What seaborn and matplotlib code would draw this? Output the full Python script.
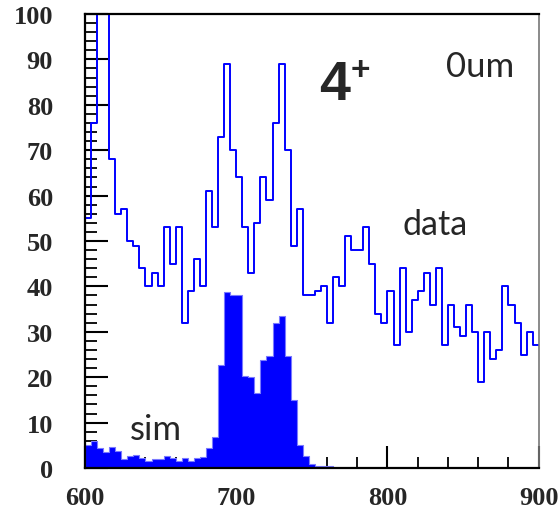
import numpy as np
import pandas as pd
import matplotlib
matplotlib.use("Agg")
import matplotlib.pyplot as plt
from matplotlib.ticker import MultipleLocator
import seaborn as sns

# ---- data (bin width 4, 600..900) ----
bin_lo, bin_hi, bin_w = 600, 900, 4
data_counts = [55, 76, 120, 115, 68, 56, 57, 50, 49, 44,
               40, 43, 40, 53, 45, 53, 32, 39, 46, 40,
               61, 53, 73, 89, 70, 64, 53, 43, 54, 64,
               59, 76, 89, 70, 49, 57, 38, 38, 39, 40,
               32, 42, 40, 51, 48, 48, 53, 45, 34, 32,
               39, 27, 44, 30, 37, 39, 43, 36, 44, 27,
               36, 31, 29, 36, 30, 19, 30, 24, 26, 40,
               36, 32, 25, 30, 27]
sim_counts = [5.1, 5.9, 4.3, 3.6, 4.7, 3.7, 2.0, 2.7, 2.9, 2.3,
              1.6, 2.0, 2.0, 2.6, 2.2, 1.6, 2.1, 1.6, 2.3, 2.5,
              4.3, 6.8, 22.7, 38.8, 38.2, 38.2, 20.3, 20.1, 16.6, 23.8,
              24.6, 31.9, 33.5, 24.6, 14.9, 5.1, 2.6, 0.8, 0.4, 0.4,
              0.4] + [0] * 34
x_ticks = [600, 700, 800, 900]
y_ticks = [0, 10, 20, 30, 40, 50, 60, 70, 80, 90, 100]

centers = bin_lo + bin_w / 2 + bin_w * np.arange(len(data_counts))
df = pd.DataFrame({"x": centers, "data": data_counts, "sim": sim_counts})

sns.set_style("ticks")
plt.rcParams["font.family"] = ["DejaVu Sans"]

W, H = 558, 510
fig = plt.figure(figsize=(W / 100, H / 100), dpi=100)
ax = fig.add_axes([85 / W, 1 - 469 / H, 453.7 / W, 454 / H])

sns.histplot(data=df, x="x", weights="sim", binwidth=bin_w,
             binrange=(bin_lo, bin_hi), element="step",
             fill=True, color="#0000ff", alpha=1.0, edgecolor="#7a7aff",
             linewidth=0.8, ax=ax)
sns.histplot(data=df, x="x", weights="data", binwidth=bin_w,
             binrange=(bin_lo, bin_hi), element="step",
             fill=False, color="#0000ff", linewidth=1.4, ax=ax)

ax.set_xlim(bin_lo, bin_hi)
ax.set_ylim(0, 100)
ax.set_xlabel("")
ax.set_ylabel("")
ax.set_xticks(x_ticks)
ax.set_yticks(y_ticks)
ax.xaxis.set_minor_locator(MultipleLocator(20))
ax.yaxis.set_minor_locator(MultipleLocator(2))
ax.tick_params(axis="y", which="major", direction="in", length=16.5,
               width=1.5, color="black", right=False, pad=23)
ax.tick_params(axis="y", which="minor", direction="in", length=8.6,
               width=1.3, color="black", right=False)
ax.tick_params(axis="x", which="major", direction="in", length=15.8,
               width=1.5, color="black", top=False, pad=13)
ax.tick_params(axis="x", which="minor", direction="in", length=8,
               width=1.3, color="black", top=False)
for lab in ax.get_xticklabels() + ax.get_yticklabels():
    lab.set_fontfamily("Liberation Serif")
    lab.set_fontweight("bold")
    lab.set_fontsize(19)
for s in ["left", "bottom", "top"]:
    ax.spines[s].set_linewidth(1.6)
    ax.spines[s].set_color("black")
ax.spines["right"].set_linewidth(1.2)
ax.spines["right"].set_color("#777777")
ax.grid(False)


def px(x, y):
    return x / W, 1 - y / H


fig.text(*px(319, 100), "4", fontsize=40, fontweight="bold",
         family="Liberation Sans", ha="left", va="baseline")
fig.text(*px(351, 80), "+", fontsize=24, fontweight="bold",
         family="Liberation Sans", ha="left", va="baseline")
fig.text(*px(446, 77), "0um", fontsize=25, family="Lato",
         ha="left", va="baseline")
fig.text(*px(403, 235), "data", fontsize=24.5, family="Lato",
         ha="left", va="baseline")
fig.text(*px(130, 440), "sim", fontsize=25, family="Lato",
         ha="left", va="baseline")

fig.savefig("out.png", dpi=100)
